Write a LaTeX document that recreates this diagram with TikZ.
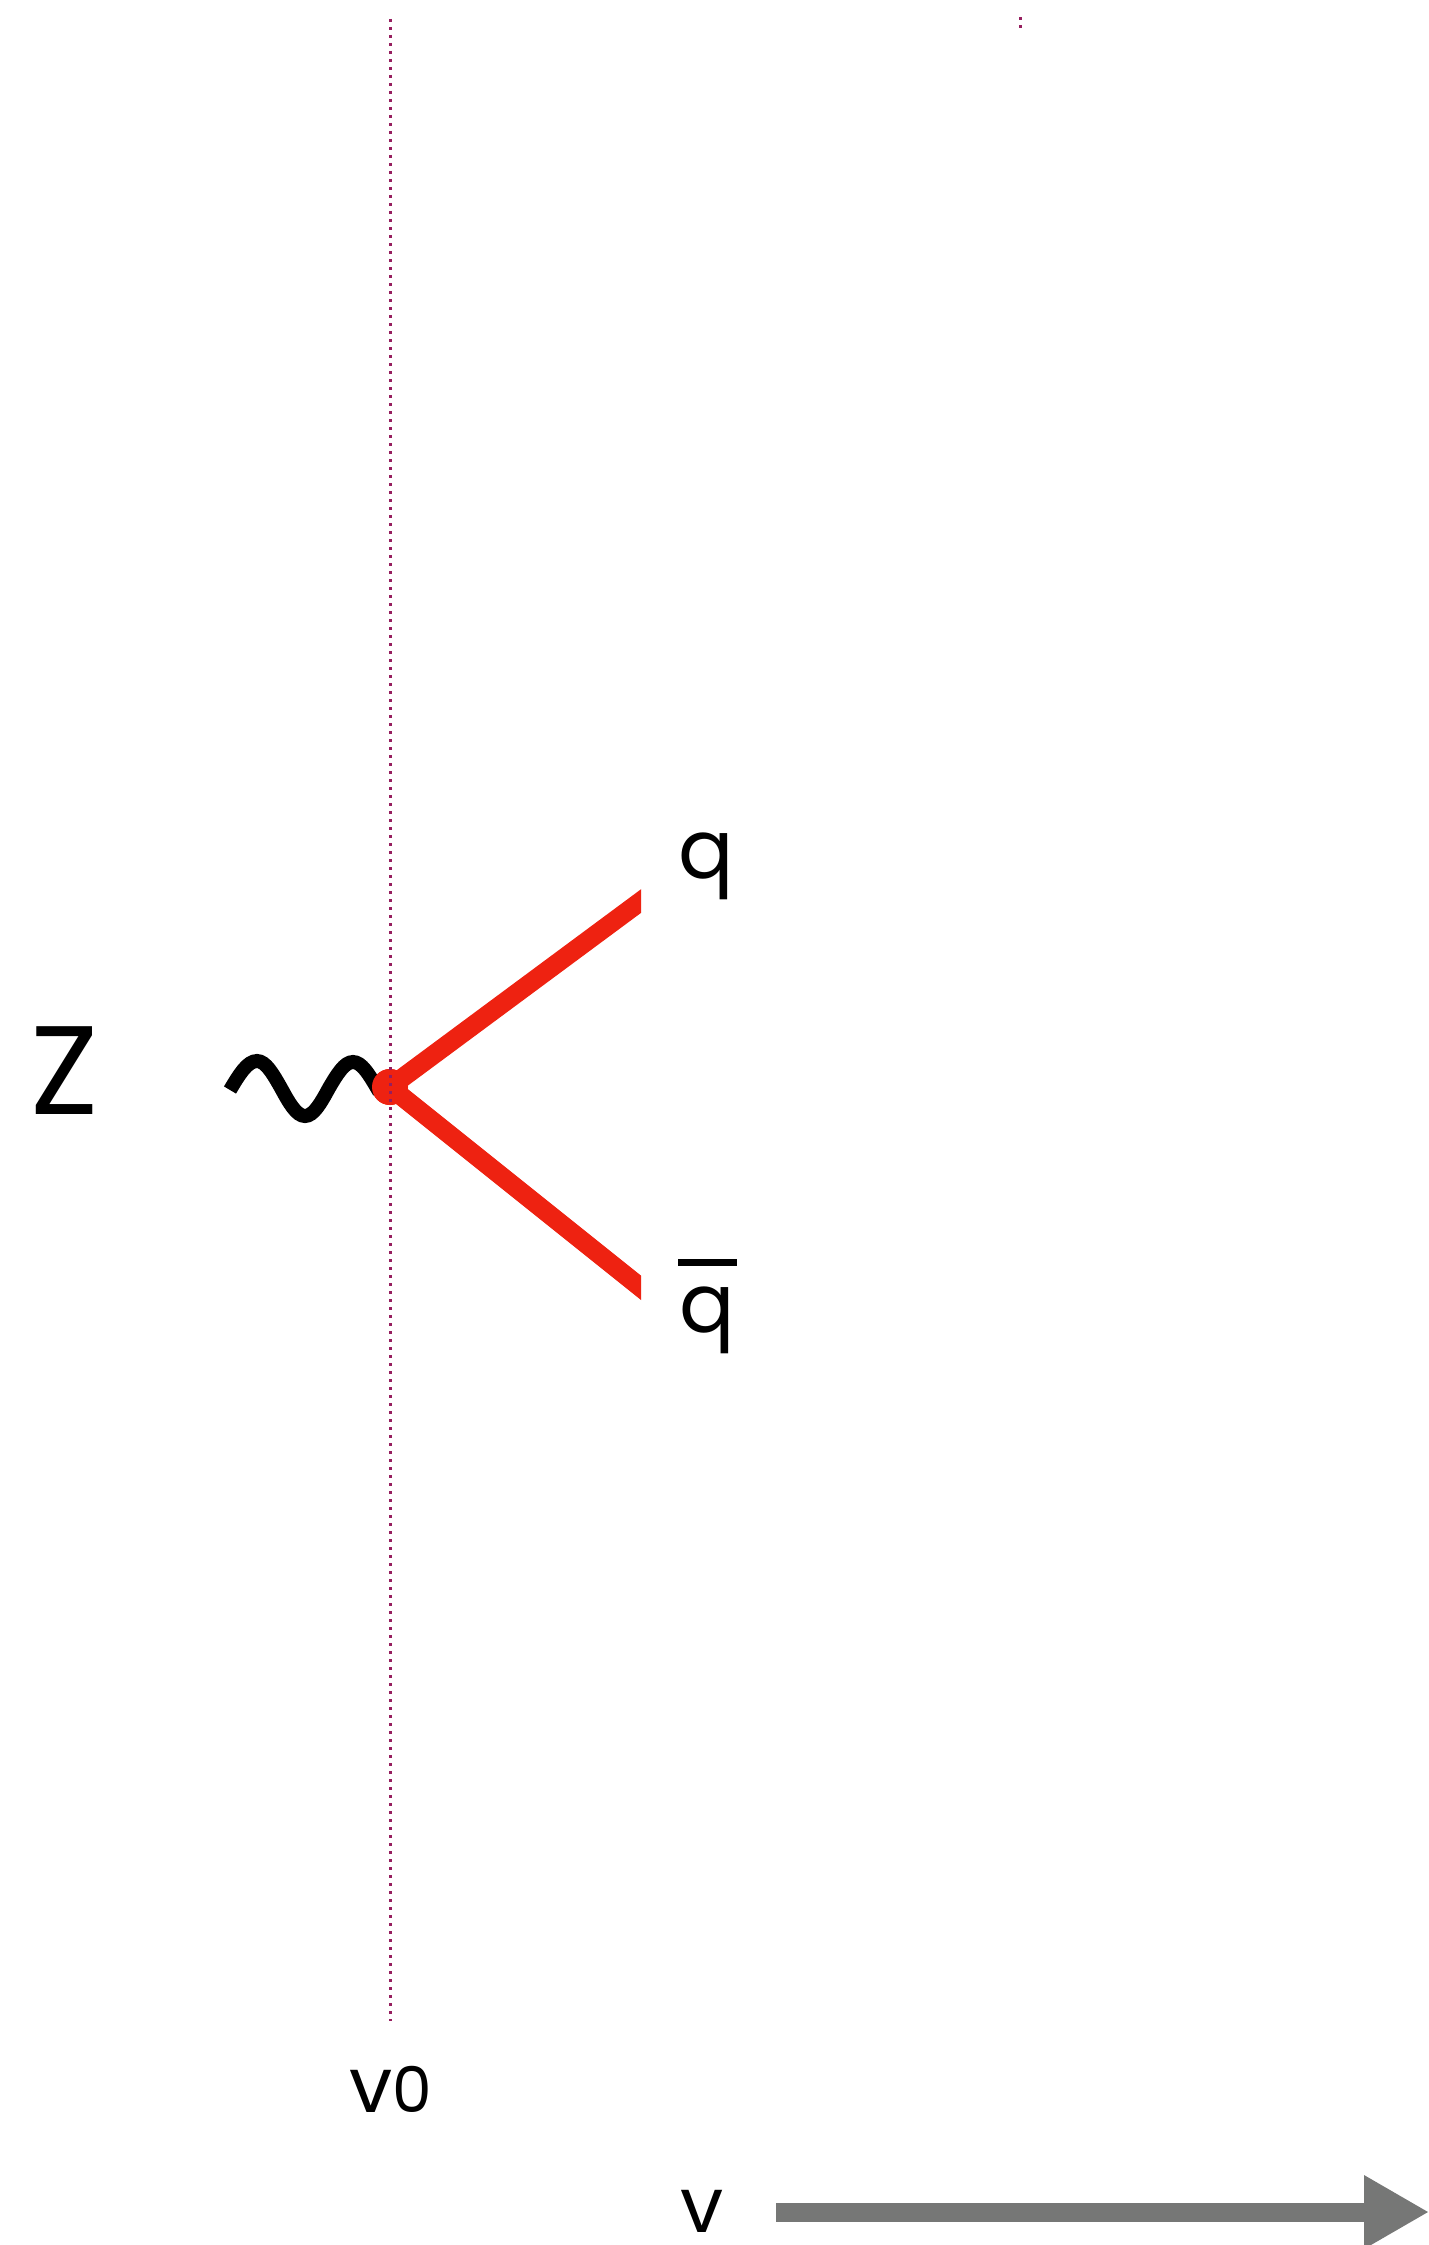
\documentclass[tikz,border=0pt]{standalone}
\usepackage{fontspec}
\setmainfont{Poppins}
\usetikzlibrary{arrows.meta}
\definecolor{quarkred}{RGB}{238,34,17}
\definecolor{dotpurple}{RGB}{150,30,95}
\definecolor{axisgray}{RGB}{118,119,118}
\tikzset{
  lbl/.style={inner sep=0pt, outer sep=0pt, anchor=base, text=black},
  quark/.style={draw=quarkred, line width=19pt},
  boson/.style={draw=black, line width=14pt},
  guide/.style={draw=dotpurple, line width=3pt, dash pattern=on 3pt off 5pt},
  axisline/.style={draw=axisgray, line width=19pt},
}
\begin{document}
\begin{tikzpicture}[x=1pt,y=-1pt]
\useasboundingbox (0,0) rectangle (1428,2245);
\fill[white] (0,0) rectangle (1428,2245);

% labels
\node[lbl] (zlab) at (65,1114) {\fontsize{126}{130}\selectfont Z};
\node[lbl] (qlab) at (706,878) {\fontsize{82}{86}\selectfont q};
\node[lbl] (qblab) at (707,1332) {\fontsize{82}{86}\selectfont\vbox{\hrule height 3.5pt depth 3.5pt width 59pt\kern 20pt\hbox to 59pt{\hfil q\hfil}}};
\node[lbl] (v0lab) at (391,2112) {{\fontsize{77}{80}\selectfont v}{\fontsize{63}{66}\selectfont 0}};
\node[lbl] (vlab) at (702,2232) {\fontsize{77}{80}\selectfont v};

% vertex
\node[circle, fill=quarkred, minimum size=36pt, inner sep=0pt] (vx) at (390,1087) {};

% coordinates
\coordinate (zs) at (230,1090);
\coordinate (qend) at (660,887);
\coordinate (qbend) at (660,1303);

% quark lines (clipped vertically at x=641)
\begin{scope}
  \clip (0,0) rectangle (641,2245);
  \draw[quark] (vx.center) -- (qend);
  \draw[quark] (vx.center) -- (qbend);
\end{scope}

% Z boson wave
\draw[boson] (zs) sin (257,1061) cos (281,1088) sin (305,1116) cos (329,1088) sin (353,1062) cos (377,1088) -- (vx.center);

% redraw vertex on top of wave
\fill[quarkred] (vx) circle[radius=18pt];

% guide lines
\coordinate (g0) at (390,19);
\coordinate (g1) at (390,2021);
\draw[guide] (g0) -- (g1);
\coordinate (m0) at (1020,17.5);
\coordinate (m1) at (1020,29);
\draw[guide] (m0) -- (m1);

% axis arrow
\coordinate (axs) at (776,2212);
\coordinate (axb) at (1364,2212);
\coordinate (axe) at (1428,2212);
\draw[axisline] (axs) -- (axb);
\fill[axisgray] (1364,2175) -- (axe) -- (1364,2249) -- cycle;
\end{tikzpicture}
\end{document}
